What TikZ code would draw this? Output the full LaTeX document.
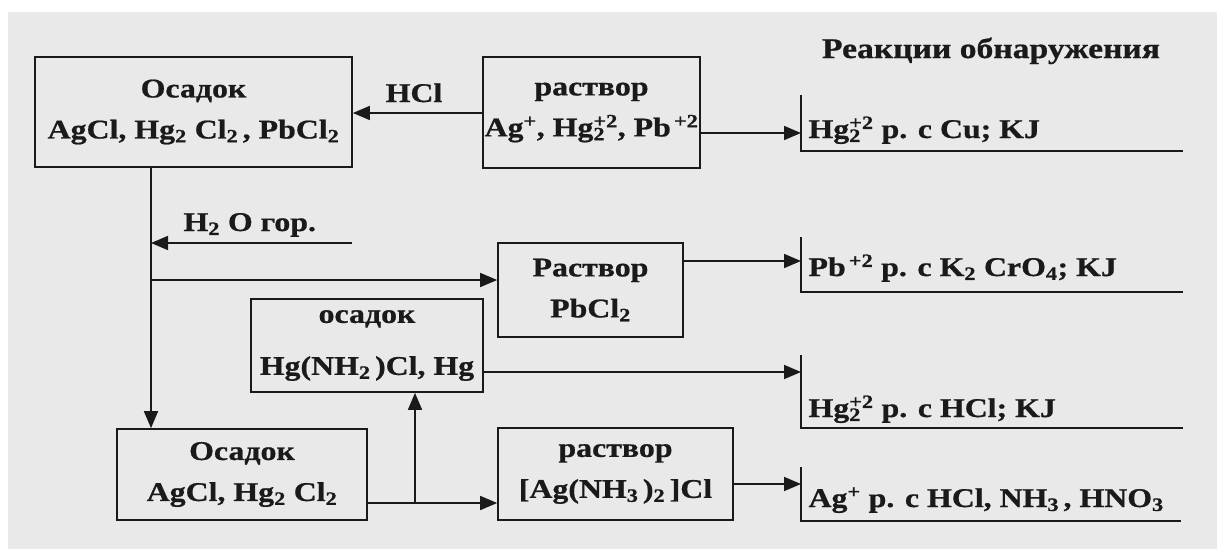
\documentclass[tikz,border=0pt]{standalone}
\usepackage{fontspec}
\setmainfont{Liberation Serif}[FakeStretch=1.18,BoldFeatures={FakeBold=0.8}]
\usetikzlibrary{arrows.meta}
\definecolor{paper}{HTML}{E9E9E9}
\definecolor{ink}{HTML}{1A1A1A}
\newcommand{\hgion}{Hg\rlap{\textsubscript{2}}\textsuperscript{+2}}

\begin{document}
\begin{tikzpicture}[x=1pt,y=-1pt,ink,
    font=\fontsize{27}{41}\selectfont\bfseries,
    box/.style={draw,line width=1.7pt,align=center,inner sep=0pt},
    arr/.style={line width=1.6pt,-{Triangle[length=17pt,width=14pt]}},
    ln/.style={line width=1.6pt}]
  \fill[white] (0,0) rectangle (1217,549);
  \fill[paper] (8,12) rectangle (1217,549);

  % boxes
  \node[box,minimum width=317pt,minimum height=110pt] (osadokA) at (193.5,112)
    {Осадок\\AgCl, Hg\textsubscript{2} Cl\textsubscript{2}\,, PbCl\textsubscript{2}};
  \node[box,minimum width=217pt,minimum height=111pt] (rastvorB) at (591.5,112.5)
    {раствор\\Ag\textsuperscript{+}, \hgion, Pb\textsuperscript{\,+2}};
  \node[box,minimum width=185pt,minimum height=94pt] (rastvorC) at (590.5,290)
    {Раствор\\PbCl\textsubscript{2}};
  \node[box,minimum width=232pt,minimum height=93pt] (osadokE) at (367,345.5)
    {осадок\\[11pt]Hg(NH\textsubscript{2}\,)Cl, Hg};
  \node[box,minimum width=250pt,minimum height=91pt] (osadokD) at (242,474.5)
    {Осадок\\AgCl, Hg\textsubscript{2} Cl\textsubscript{2}};
  \node[box,minimum width=235pt,minimum height=92pt] (rastvorF) at (615.5,474)
    {раствор\\{}[Ag(NH\textsubscript{3}\,)\textsubscript{2}\,]Cl};

  % labels
  \node[anchor=base] (hcl) at (414,102) {HCl};
  \node[anchor=base west] (voda) at (180,231) {H\textsubscript{2} O гор.};
  \node[anchor=base,font=\fontsize{28.5}{34}\selectfont\bfseries] (title) at (991,58)
    {Реакции обнаружения};

  % reactions
  \node[anchor=base west] (r1) at (805,138) {\hgion\ р. с Cu; KJ};
  \node[anchor=base west] (r2) at (805,276) {Pb\textsuperscript{\,+2} р. с K\textsubscript{2} CrO\textsubscript{4}; KJ};
  \node[anchor=base west] (r3) at (805,417) {\hgion\ р. с HCl; KJ};
  \node[anchor=base west] (r4) at (805,507) {Ag\textsuperscript{+} р. с HCl, NH\textsubscript{3}\,, HNO\textsubscript{3}};

  \coordinate (r1in) at (801,133);
  \coordinate (r2in) at (801,261);
  \coordinate (r3in) at (801,372);
  \coordinate (r4in) at (801,484);
  \draw[ln] (801,95) |- (1183,151);
  \draw[ln] (801,237) |- (1183,292);
  \draw[ln] (801,355) |- (1183,428);
  \draw[ln] (801,467) |- (1181,521);

  % connectors
  \coordinate (j1) at (151,243);
  \coordinate (j2) at (151,280);
  \coordinate (j3) at (415,503);
  \coordinate (h2o) at (352,243);
  \draw[arr] (rastvorB.west |- 0,113) -- (osadokA.east |- 0,113);
  \draw[arr] (rastvorB.east |- r1in) -- (r1in);
  \draw[arr] (osadokA.south -| j1) -- (osadokD.north -| j1);
  \draw[arr] (h2o) -- (j1);
  \draw[arr] (j2) -- (rastvorC.west |- j2);
  \draw[arr] (rastvorC.east |- r2in) -- (r2in);
  \draw[arr] (osadokE.east |- r3in) -- (r3in);
  \draw[arr] (osadokD.east |- j3) -- (rastvorF.west |- j3);
  \draw[arr] (j3) -- (osadokE.south -| j3);
  \draw[arr] (rastvorF.east |- r4in) -- (r4in);
\end{tikzpicture}
\end{document}
